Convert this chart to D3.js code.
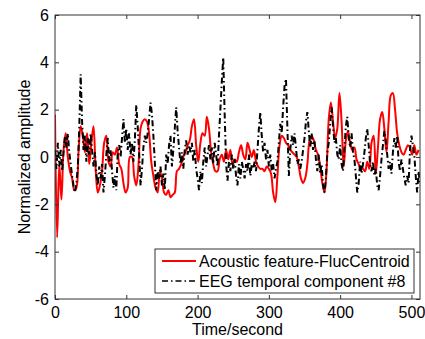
<!DOCTYPE html>
<html>
	<head>
		<meta charset="utf-8">
		<title>Acoustic feature vs EEG component</title>
		<style>
			body, html {
				margin: 0;
				padding: 0;
				background: #fff;
			}
			text {
				font-family: 'Liberation Sans', Arial, sans-serif;
			}
		</style>
	</head>
	<body>

		<svg id="svg" width="425" height="339"></svg>

		<script src="https://cdnjs.cloudflare.com/ajax/libs/d3/7.8.5/d3.min.js"></script>
		<script>
			// Tick labels
			const xTicks = [0, 100, 200, 300, 400, 500]
			const yTicks = [-6, -4, -2, 0, 2, 4, 6]

			// Acoustic feature (red), one sample every 3 seconds from t = 0
			const redStep = 3
			const redValues = [
				1.8, -3.4, -0.3, -1.8, 0.3, 1.0, 0.0, -0.6, -0.9, -1.4,
				-1.3, 0.2, 1.3, 0.9, 0.2, 1.0, -0.3, 0.6, 1.3, -0.5,
				-1.5, -1.2, -0.6, 0.6, 0.9, -0.2, -0.4, 0.2, 0.1, 0.4,
				-0.3, -0.5, -1.1, -1.5, -1.3, 0.0, 0.0, -0.8, -1.2, -0.4,
				1.2, 1.5, 1.6, 1.5, 1.0, -0.2, -0.8, -1.3, -1.5, -0.6,
				-0.9, -1.5, -1.6, -1.4, -1.7, -1.6, -1.5, -0.6, -0.5, -0.3,
				0.0, 0.2, 0.5, 0.7, 1.3, 1.6, 0.5, -0.2, 0.6, 1.0,
				0.9, 1.7, 1.2, 0.2, -0.3, -0.6, -0.6, -0.1, 0.1, -0.2,
				0.3, -0.1, 0.3, -0.3, -0.1, -0.2, 0.2, 0.5, 0.1, -0.1,
				0.6, 0.3, 0.0, 0.3, -0.2, -0.4, -0.5, -0.5, -0.6, -0.4,
				-0.5, -0.7, -1.5, -1.9, -0.8, 0.5, 0.9, 0.8, 0.6, 0.5,
				0.3, 0.2, 0.1, 0.0, -0.4, -0.9, -1.1, -0.9, -0.3, 0.7,
				0.9, 0.7, 0.3, 0.1, -0.4, -1.1, -1.5, -0.5, 1.6, 2.3,
				1.5, 0.8, 1.2, 2.7, 1.5, -0.4, 0.7, 1.1, 0.6, 0.3,
				0.4, -0.1, -0.3, -0.5, -0.5, -0.6, -0.2, -0.5, 0.6, 0.9,
				-0.7, 0.4, 1.6, 1.9, 1.2, 0.2, 1.5, 2.6, 2.7, 2.0,
				1.0, 0.5, 0.2, 0.1, 0.3, 0.5, 0.4, 0.1, 0.5, 0.1,
				0.3
			]

			// EEG temporal component (black dash-dot), one sample every 2 seconds
			const blackStep = 2
			const blackValues = [
				0.3, -0.5, 0.6, -0.4, 0.3, -0.6, 0.2, 0.9, 0.4, 1.0,
				0.2, -0.3, -0.8, -1.2, -1.5, -1.1, -0.4, 1.2, 3.5, 1.5,
				0.3, 0.9, -0.2, 0.8, 0.1, 1.0, 0.3, -0.4, 0.2, -0.7,
				-1.2, -0.4, -0.9, -0.3, -1.5, -0.8, 0.1, 0.8, -0.2, 0.3,
				-0.6, -1.3, -0.8, -1.4, 0.2, 0.5, 0.0, 0.8, 1.6, 0.6,
				1.2, 0.3, 1.0, 0.1, 0.6, -0.2, 0.7, 2.2, 1.3, 0.2,
				-1.2, -0.5, 0.4, 0.9, 0.6, 1.0, 1.6, 2.3, 1.8, 0.9,
				-0.2, -1.4, -0.6, -0.9, -0.4, -1.2, -0.7, -1.4, 0.1, -0.3,
				0.5, 0.9, -0.4, 0.3, 1.2, 2.1, 1.1, 0.4, -0.3, 0.2,
				-0.5, 0.3, 0.7, 0.1, 0.5, 0.2, 0.6, -0.2, 0.3, -0.5,
				-0.9, -1.4, -0.6, -1.1, -0.2, 0.4, -0.4, 0.1, 0.5, -0.1,
				0.4, -0.3, 0.6, 0.1, -0.4, 0.9, 2.0, 3.2, 4.2, 1.8,
				-0.3, -1.0, -0.2, -0.6, 0.1, -0.5, -0.1, -0.8, -1.2, -0.3,
				-0.9, -0.2, -0.5, -0.9, -0.3, -0.6, 0.1, -0.8, -0.3, -0.5,
				-0.2, -0.6, 0.3, 1.2, 1.9, 0.9, 0.2, 0.6, -0.1, 0.3,
				-0.4, 0.1, -0.6, -0.3, -0.9, -0.5, -0.2, 0.6, 1.4, 1.0,
				2.1, 3.0, 3.3, 1.2, -0.8, 0.3, 0.9, 0.5, 1.0, 0.4,
				-0.3, -0.1, -0.5, -0.2, 0.3, 0.8, 1.5, 1.9, 1.1, 0.4,
				1.0, 0.3, 0.7, -0.1, -0.6, 0.1, -0.7, -0.3, -1.2, -1.5,
				-0.9, 0.2, 0.6, 1.4, 2.1, 1.3, 0.6, 0.8, 0.1, -0.1,
				0.5, -0.3, -0.6, 0.4, 1.3, 1.7, 0.8, 0.4, 1.0, 0.2,
				-0.1, -0.8, -1.5, -1.1, -0.2, -0.7, -0.3, 0.2, 0.8, 1.2,
				0.5, -0.3, -0.6, -0.2, -0.8, -0.5, -1.2, -1.4, -0.8, -0.1,
				0.5, 1.1, 0.7, 0.1, -0.5, -0.2, -0.7, 0.2, 0.8, 0.4,
				0.9, -0.2, -0.6, -0.1, -0.5, -0.9, -1.2, -0.8, -1.1, 0.3,
				0.9, 0.5, 0.1, -0.8, -1.5, -0.6, -1.2
			]

			const seriesNames = ['Acoustic feature-FlucCentroid', 'EEG temporal component #8']

			const margin = { left: 55, top: 15, right: 5, bottom: 40 }
			const width = 425 - margin.left - margin.right
			const height = 339 - margin.top - margin.bottom

			const svg = d3.select('#svg')

			const x = d3.scaleLinear().domain([0, 512]).range([margin.left, margin.left + width])
			const y = d3.scaleLinear().domain([-6, 6]).range([margin.top + height, margin.top])

			// clip lines to the axes box
			svg.append('clipPath')
				.attr('id', 'clip')
				.append('rect')
				.attr('x', margin.left)
				.attr('y', margin.top)
				.attr('width', width)
				.attr('height', height)

			const redData = redValues.map((v, i) => [i * redStep, v])
			const blackData = blackValues.map((v, i) => [i * blackStep, v])

			const line = d3.line()
				.x(d => x(d[0]))
				.y(d => y(d[1]))

			const plot = svg.append('g').attr('clip-path', 'url(#clip)')

			plot.append('path')
				.attr('d', line.curve(d3.curveCatmullRom)(redData))
				.attr('fill', 'none')
				.attr('stroke', '#ff0000')
				.attr('stroke-width', 2)

			plot.append('path')
				.attr('d', line.curve(d3.curveLinear)(blackData))
				.attr('fill', 'none')
				.attr('stroke', '#000')
				.attr('stroke-width', 2)
				.attr('stroke-dasharray', '6,3,1.5,3')

			// Axes, ticks pointing inwards like matlab
			const tick = 4
			const fontSize = 16
			const plain = d => String(d) // hyphen minus, as in the original

			const xAxis = svg.append('g')
				.attr('transform', `translate(0, ${margin.top + height})`)
				.call(d3.axisBottom(x).tickValues(xTicks).tickSize(-tick).tickPadding(tick + 4).tickFormat(plain))
			const xTop = svg.append('g')
				.attr('transform', `translate(0, ${margin.top})`)
				.call(d3.axisTop(x).tickValues(xTicks).tickSize(-tick).tickFormat(''))
			const yAxis = svg.append('g')
				.attr('transform', `translate(${margin.left}, 0)`)
				.call(d3.axisLeft(y).tickValues(yTicks).tickSize(-tick).tickPadding(tick + 2).tickFormat(plain))
			const yRight = svg.append('g')
				.attr('transform', `translate(${margin.left + width}, 0)`)
				.call(d3.axisRight(y).tickValues(yTicks).tickSize(-tick).tickFormat(''))

			;[xAxis, xTop, yAxis, yRight].forEach(g => {
				g.select('.domain').remove()
				g.selectAll('line').attr('stroke', '#333')
				g.selectAll('text')
					.attr('fill', '#000')
					.style('font-size', fontSize + 'px')
					.style('font-family', "'Liberation Sans', Arial, sans-serif")
			})

			// Box
			svg.append('rect')
				.attr('x', margin.left)
				.attr('y', margin.top)
				.attr('width', width)
				.attr('height', height)
				.attr('fill', 'none')
				.attr('stroke', '#333')
				.attr('stroke-width', 1)

			// Axis labels
			svg.append('text')
				.attr('x', margin.left + width / 2)
				.attr('y', 335)
				.attr('text-anchor', 'middle')
				.style('font-size', fontSize + 'px')
				.text('Time/second')

			svg.append('text')
				.attr('transform', `translate(30, ${margin.top + height / 2}) rotate(-90)`)
				.attr('text-anchor', 'middle')
				.style('font-size', fontSize + 'px')
				.text('Normalized amplitude')

			// Legend
			const legend = svg.append('g').attr('transform', 'translate(155, 249)')
			legend.append('rect')
				.attr('width', 259)
				.attr('height', 44)
				.attr('fill', '#fff')
				.attr('stroke', '#333')

			const legendStyles = [
				{ color: '#ff0000', dash: null, width: 2 },
				{ color: '#000', dash: '6,3,1.5,3', width: 1.5 }
			]
			seriesNames.forEach((name, i) => {
				const row = legend.append('g').attr('transform', `translate(0, ${12 + i * 20})`)
				row.append('line')
					.attr('x1', 7)
					.attr('x2', 41)
					.attr('stroke', legendStyles[i].color)
					.attr('stroke-width', legendStyles[i].width)
					.attr('stroke-dasharray', legendStyles[i].dash)
				row.append('text')
					.attr('x', 44)
					.attr('dy', '0.35em')
					.style('font-size', fontSize + 'px')
					.text(name)
			})
		</script>
	</body>
</html>
